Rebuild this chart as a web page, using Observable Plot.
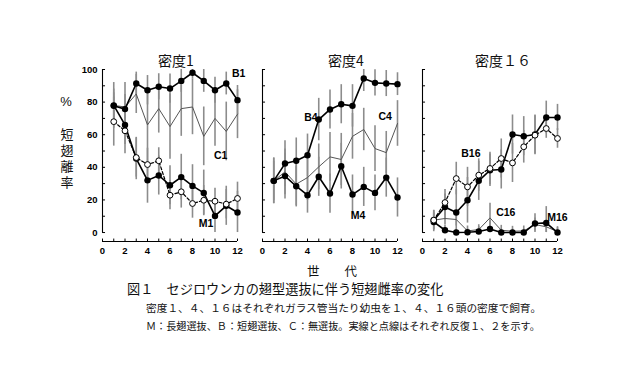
<!DOCTYPE html>
<html><head><meta charset="utf-8">
<script src="https://cdn.jsdelivr.net/npm/d3@7"></script>
<script src="https://cdn.jsdelivr.net/npm/@observablehq/plot@0.6"></script>
<style>
body{margin:0;background:#fff;}
#wrap{position:relative;width:634px;height:376px;background:#fff;overflow:hidden;font-family:"Noto Sans CJK JP","Noto Sans",sans-serif;color:#111;}
.t{position:absolute;white-space:nowrap;line-height:1;}
.c{transform:translate(-50%,-50%);}
.panel{position:absolute;top:60px;}
</style></head><body>
<div id="wrap"></div>
<script>
// ---- data ----
const generations = [1,2,3,4,5,6,7,8,9,10,11,12];
const xTickLabels = [0,2,4,6,8,10,12];
const xMinorTicks = [0,1,2,3,4,5,6,7,8,9,10,11,12];
const yTickLabels = [0,20,40,60,80,100];
const yMinorTicks = [0,10,20,30,40,50,60,70,80,90,100];
const panelTitles = ["密度1","密度4","密度１６"];

// density 1
const B1    = [77.7,75.7,91.4,87.3,89.4,88.3,93,98,93,87.3,91.4,81.2];
const B1err = [8,9,7,9,8,9,7,4,7,8,7,9];
const C1    = [78,77,85,66,76,65,76,77,59,70,62,72.6];
const C1err = [14,15,12,20,15,20,17,17,18,17,18,15];
const M1a   = [78,66,45.4,32,35,29,34,28.6,24.3,10.2,16.4,12.3];
const M1aErr= [10,12,13,14,12,12,14,13,14,11,12,13];
const M1b   = [68,62.4,46,41.7,44,22.9,25,17.8,19.8,19.2,17.4,20.9];
const M1bErr= [15,14,12,10,8,9,10,9,9,8,9,10];
// density 4
const B4    = [31.7,42.3,44,47.4,69.3,75.5,78.7,77.7,94.5,91.8,91.4,91];
const B4err = [12,14,14,13,13,12,12,13,8,8,8,7];
const C4    = [31.7,37.2,29.7,33.7,40.3,46.4,44.8,59,63.2,51.5,49,66.9];
const C4err = [14,14,14,14,14,15,16,14,13,14,13,14];
const M4    = [31.7,34.6,28.4,22.9,34.2,23.9,40.7,23.3,28,24.3,33.7,21.5];
const M4err = [14,14,12,11,12,12,14,12,12,11,12,12];
// density 16
const B16a    = [7.6,15.7,12.3,19.8,31.7,38.2,38.7,60.1,59.1,60.1,70.6,70.6];
const B16aErr = [6,8,14,14,12,10,12,12,12,12,10,8];
const B16b    = [7.6,18.4,33.1,28,35.2,39.3,45.4,42.7,52.6,59.7,63.8,57.7];
const B16bErr = [6,8,10,12,10,10,12,12,10,12,6,6];
const C16     = [7.6,8.6,8,1,1.8,9,1.4,0.8,1,4.9,3.5,0.6];
const C16err  = [4,4,4,3,3,9,3,3,3,4,4,3];
const M16     = [6.5,1.4,0,0.2,0.6,2.2,0,0,0,5.5,5.9,0];
const M16err  = [6,3,2,2,3,5,2,2,2,6,10,3];

// series labels: [text, generation, value] anchors in data space
const labels1  = [["B1",12.1,97.5],["C1",10.5,47],["M1",9.2,5.5]];
const labels4  = [["B4",4.3,70.5],["C4",10.9,71],["M4",8.5,10.4]];
const labels16 = [["B16",4.3,48.5],["C16",7.4,12.3],["M16",12,9.2]];

// ---- drawing ----
const Y_MIN = -5.5;
function rows(name, values, err, kind){
  return generations.map((g,i)=>({g, v: values[i], e: err[i], s: name, kind}));
}
function panel(series, labs, showY){
  const all = series.flat();
  const ctrl = all.filter(d=>d.kind==="control");
  const solid = all.filter(d=>d.kind==="solid");
  const dashed = all.filter(d=>d.kind==="dashed");
  const marks = [
    Plot.ruleX([0], {y1: 0, y2: 100, stroke: "#000", strokeWidth: 1.1}),
    Plot.ruleY(yMinorTicks, {y: d=>d, x1: 0, x2: 0.27, stroke: "#000", strokeWidth: 1}),
    Plot.ruleY([Y_MIN], {x1: 0, x2: 12, stroke: "#000", strokeWidth: 1.1}),
    Plot.ruleX(xMinorTicks, {x: d=>d, y1: Y_MIN, y2: Y_MIN + 1.5, stroke: "#000", strokeWidth: 1}),
    Plot.axisX(xTickLabels, {anchor: "bottom", tickSize: 0, tickPadding: 6, label: null, fontWeight: "bold", fontSize: 9.5}),
    Plot.ruleX(all, {x: "g", y1: d=>Math.max(0,d.v-d.e), y2: d=>Math.min(100,d.v+d.e), stroke: "#8c8c8c", strokeWidth: 1.6}),
    Plot.line(ctrl, {x: "g", y: "v", z: "s", stroke: "#555", strokeWidth: 1}),
    Plot.line(dashed, {x: "g", y: "v", z: "s", stroke: "#000", strokeWidth: 1.2, strokeDasharray: "3,2"}),
    Plot.line(solid, {x: "g", y: "v", z: "s", stroke: "#000", strokeWidth: 1.6}),
    Plot.dot(solid, {x: "g", y: "v", r: 3.2, fill: "#000"}),
    Plot.dot(dashed, {x: "g", y: "v", r: 2.9, fill: "#fff", stroke: "#000", strokeWidth: 1}),
    Plot.text(labs, {x: d=>d[1], y: d=>d[2], text: d=>d[0], fontSize: 10.5, fontWeight: "bold", fill: "#000"})
  ];
  if (showY) marks.push(Plot.axisY(yTickLabels, {anchor: "left", tickSize: 0, tickPadding: 5, label: null, fontWeight: "bold", fontSize: 9.5}));
  return Plot.plot({
    width: 200, height: 201,
    marginLeft: 22, marginRight: 43, marginTop: 9, marginBottom: 20,
    x: {domain: [0,12], axis: null},
    y: {domain: [Y_MIN,100], axis: null},
    style: {background: "transparent", overflow: "visible", fontFamily: "'Liberation Sans', Arial, sans-serif", fontWeight: "bold", fontSize: "9.5px", color: "#000"},
    marks
  });
}

const wrap = document.getElementById("wrap");
const panels = [
  panel([rows("C1",C1,C1err,"control"), rows("B1",B1,B1err,"solid"), rows("M1a",M1a,M1aErr,"solid"), rows("M1b",M1b,M1bErr,"dashed")], labels1, true),
  panel([rows("C4",C4,C4err,"control"), rows("B4",B4,B4err,"solid"), rows("M4",M4,M4err,"solid")], labels4, false),
  panel([rows("C16",C16,C16err,"control"), rows("B16a",B16a,B16aErr,"solid"), rows("B16b",B16b,B16bErr,"dashed"), rows("M16",M16,M16err,"solid")], labels16, false)
];
const lefts = [80, 240, 400];
panels.forEach((p,i)=>{
  const d = document.createElement("div");
  d.className = "panel"; d.style.left = lefts[i] + "px";
  d.appendChild(p); wrap.appendChild(d);
});

function addText(txt, x, y, size, cls, extra){
  const d = document.createElement("div");
  d.className = "t " + (cls||"");
  d.style.left = x + "px"; d.style.top = y + "px"; d.style.fontSize = size + "px";
  if (extra) Object.assign(d.style, extra);
  d.textContent = txt; wrap.appendChild(d);
}
const titleX = [176, 346, 503];
panelTitles.forEach((t,i)=>addText(t, titleX[i], 60, 14, "c"));
addText("%", 66, 101, 13, "c", {fontFamily: "'Liberation Sans', Arial, sans-serif"});
addText("短翅離率", 67, 160, 13, "c", {writingMode: "vertical-rl", letterSpacing: "3px"});
addText("世　　代", 332, 271, 12.5, "c");
addText("図１　セジロウンカの翅型選抜に伴う短翅雌率の変化", 127, 281.5, 13.2);
addText("密度１、４、１６はそれぞれガラス管当たり幼虫を１、４、１６頭の密度で飼育。", 146, 303, 10.7);
addText("Ｍ：長翅選抜、Ｂ：短翅選抜、Ｃ：無選抜。実線と点線はそれぞれ反復１、２を示す。", 146, 321, 10.15);
</script>
</body></html>
